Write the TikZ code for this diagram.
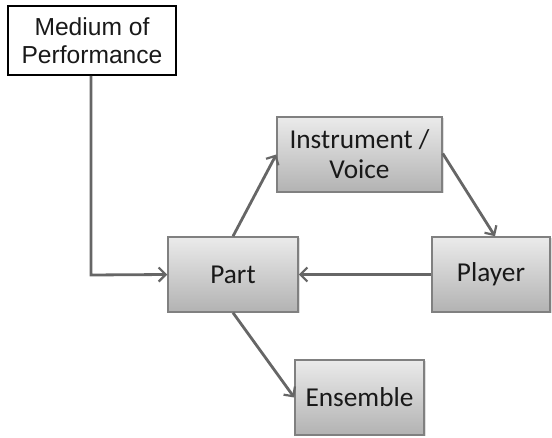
\documentclass[tikz,border=0pt]{standalone}
\usepackage{fontspec}
\setmainfont{Carlito}
\newfontfamily\arialfont{Liberation Sans}
\usetikzlibrary{arrows.meta,shadows}
\tikzset{
  box/.style={draw=black!50, line width=1.5pt, top color=black!8, bottom color=black!30,
    minimum height=75pt, inner sep=0pt, align=center, text=black!90, font=\fontsize{27.3}{30}\selectfont,
    drop shadow={shadow xshift=1.5pt, shadow yshift=-1.5pt, opacity=0.25}},
  plainbox/.style={draw=black, line width=2pt, fill=white, align=center, inner sep=0pt,
    text=black!90, font=\arialfont\fontsize{24.6}{28}\selectfont},
  link/.style={draw=black!60, line width=2.8pt, line join=miter,
    -{Straight Barb[length=7pt,width=14pt,line width=2.2pt]}}
}
\begin{document}
\begin{tikzpicture}[x=1pt,y=-1pt]
\useasboundingbox (0,0) rectangle (552,438);
\node[plainbox, minimum width=168pt, minimum height=69pt] (medium) at (92,40.5) {Medium of\\Performance};
\node[box, minimum width=165pt] (instr) at (359.5,154.5) {Instrument /\\Voice};
\node[box, minimum width=130pt] (part) at (233,274.5) {Part};
\node[box, minimum width=118pt] (player) at (491,274.5) {Player};
\node[box, minimum width=129pt] (ens) at (359.5,397.5) {Ensemble};
\coordinate (bend) at (91,275);
\draw[link] (medium.south -| bend) -- (bend) -- (part.west);
\draw[link] (part.north) -- (instr.west);
\draw[link] ([yshift=1pt]instr.east) -- ([xshift=4pt]player.north);
\draw[link] (player.west) -- (part.east);
\draw[link] (part.south) -- (ens.west);
\end{tikzpicture}
\end{document}
